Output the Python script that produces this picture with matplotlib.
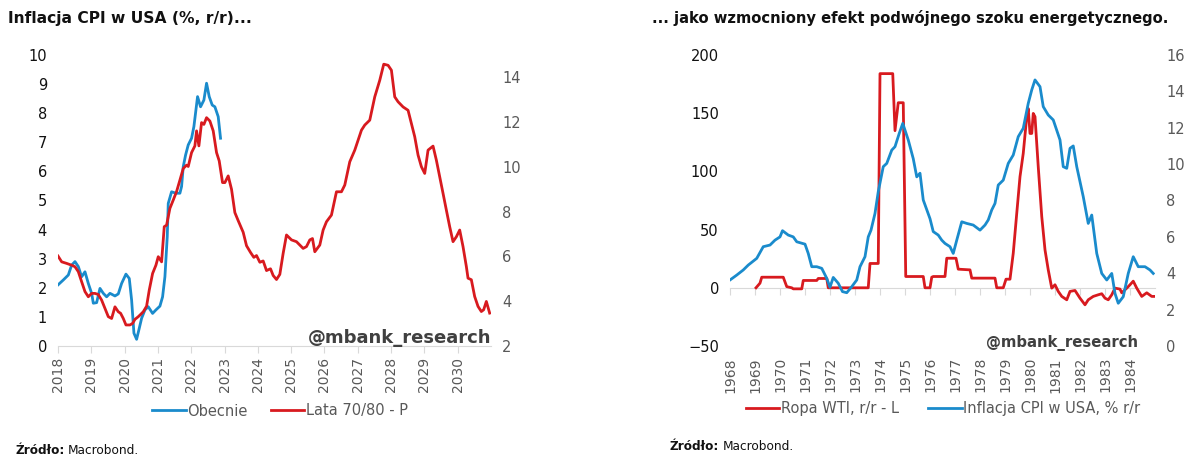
import matplotlib.pyplot as plt

# --- left panel: current CPI vs 1970s/80s CPI (shifted) ---
now_x = [2018.00, 2018.16, 2018.31, 2018.41, 2018.51, 2018.61, 2018.71, 2018.81, 2018.91,
         2019.01, 2019.06, 2019.16, 2019.26, 2019.36, 2019.46, 2019.56, 2019.71, 2019.81,
         2019.91, 2020.04, 2020.14, 2020.21, 2020.28, 2020.36, 2020.44, 2020.51, 2020.61,
         2020.71, 2020.84, 2020.94, 2021.06, 2021.14, 2021.21, 2021.28, 2021.31, 2021.41,
         2021.54, 2021.66, 2021.71, 2021.76, 2021.83, 2021.91, 2022.01, 2022.08, 2022.19,
         2022.28, 2022.38, 2022.46, 2022.54, 2022.63, 2022.71, 2022.81, 2022.88]
now_y = [2.10, 2.27, 2.44, 2.78, 2.90, 2.73, 2.38, 2.55, 2.15,
         1.81, 1.47, 1.49, 1.98, 1.81, 1.69, 1.81, 1.72, 1.79,
         2.15, 2.47, 2.32, 1.58, 0.44, 0.23, 0.61, 0.95, 1.24,
         1.35, 1.12, 1.24, 1.37, 1.69, 2.38, 3.76, 4.90, 5.30,
         5.25, 5.25, 5.48, 6.16, 6.56, 6.91, 7.14, 7.54, 8.57,
         8.22, 8.45, 9.03, 8.57, 8.28, 8.22, 7.88, 7.14]

old_x = [2018.00, 2018.11, 2018.26, 2018.41, 2018.51, 2018.61, 2018.71, 2018.81, 2018.91,
         2019.01, 2019.11, 2019.21, 2019.31, 2019.41, 2019.51, 2019.61, 2019.71, 2019.81,
         2019.88, 2019.96, 2020.04, 2020.16, 2020.24, 2020.31, 2020.41, 2020.48, 2020.56,
         2020.66, 2020.74, 2020.84, 2020.94, 2021.01, 2021.11, 2021.19, 2021.26, 2021.36,
         2021.46, 2021.56, 2021.66, 2021.76, 2021.86, 2021.91, 2022.01, 2022.11, 2022.16,
         2022.23, 2022.31, 2022.38, 2022.46, 2022.56, 2022.66, 2022.76, 2022.84, 2022.94,
         2023.01, 2023.11, 2023.21, 2023.31, 2023.41, 2023.56, 2023.66, 2023.78, 2023.88,
         2023.96, 2024.06, 2024.16, 2024.26, 2024.38, 2024.46, 2024.56, 2024.66, 2024.76,
         2024.86, 2025.01, 2025.16, 2025.26, 2025.36, 2025.46, 2025.56, 2025.64, 2025.71,
         2025.86, 2025.96, 2026.06, 2026.21, 2026.36, 2026.51, 2026.61, 2026.76, 2026.91,
         2027.11, 2027.21, 2027.36, 2027.51, 2027.66, 2027.78, 2027.91, 2028.01, 2028.11,
         2028.21, 2028.36, 2028.51, 2028.61, 2028.71, 2028.81, 2028.91, 2029.01, 2029.11,
         2029.26, 2029.36, 2029.46, 2029.56, 2029.66, 2029.76, 2029.86, 2029.96, 2030.06,
         2030.16, 2030.26, 2030.31, 2030.41, 2030.51, 2030.61, 2030.71, 2030.78, 2030.86,
         2030.96]
old_y = [6.02, 5.76, 5.69, 5.61, 5.54, 5.32, 4.87, 4.43, 4.20,
         4.35, 4.35, 4.30, 4.05, 3.68, 3.31, 3.23, 3.75, 3.53,
         3.46, 3.23, 2.94, 2.94, 3.01, 3.19, 3.31, 3.41, 3.53,
         3.78, 4.50, 5.24, 5.61, 5.99, 5.76, 7.33, 7.40, 8.15,
         8.52, 8.90, 9.41, 9.93, 10.08, 10.02, 10.64, 10.94, 11.61,
         10.94, 11.98, 11.90, 12.20, 12.05, 11.61, 10.64, 10.27, 9.30,
         9.30, 9.60, 9.00, 7.96, 7.60, 7.08, 6.48, 6.18, 5.96,
         6.04, 5.74, 5.80, 5.37, 5.45, 5.15, 4.97, 5.20, 6.14,
         6.96, 6.74, 6.66, 6.51, 6.36, 6.44, 6.74, 6.80, 6.21,
         6.51, 7.18, 7.55, 7.85, 8.89, 8.89, 9.19, 10.23, 10.75,
         11.64, 11.87, 12.09, 13.13, 13.87, 14.59, 14.54, 14.32, 13.13,
         12.91, 12.68, 12.53, 11.94, 11.35, 10.53, 10.01, 9.71, 10.75,
         10.93, 10.30, 9.56, 8.82, 8.07, 7.33, 6.66, 6.88, 7.18,
         6.44, 5.55, 5.03, 4.96, 4.21, 3.77, 3.54, 3.62, 3.99,
         3.47]

left_years = list(range(2018, 2031))

# --- right panel: WTI oil y/y vs US CPI 1968-1984 ---
wti_x = [1969.04, 1969.20, 1969.27, 1970.13, 1970.27, 1970.47, 1970.53, 1970.87, 1970.93,
         1971.47, 1971.53, 1971.87, 1971.93, 1973.53, 1973.60, 1973.93, 1974.00, 1974.51,
         1974.60, 1974.73, 1974.93, 1975.03, 1975.73, 1975.80, 1976.00, 1976.07, 1976.13,
         1976.60, 1976.67, 1977.04, 1977.13, 1977.60, 1977.67, 1978.60, 1978.67, 1978.93,
         1979.04, 1979.20, 1979.33, 1979.47, 1979.60, 1979.73, 1979.87, 1979.93, 1980.00,
         1980.07, 1980.13, 1980.20, 1980.33, 1980.47, 1980.60, 1980.73, 1980.87, 1981.00,
         1981.13, 1981.27, 1981.47, 1981.60, 1981.80, 1982.00, 1982.20, 1982.33, 1982.53,
         1982.73, 1982.87, 1983.00, 1983.13, 1983.27, 1983.40, 1983.60, 1983.67, 1983.87,
         1984.00, 1984.13, 1984.27, 1984.47, 1984.67, 1984.87, 1984.96]
wti_y = [0, 4, 9.1, 9.1, 1, 0, -0.9, -0.9, 6.3,
         6.3, 8.0, 8.0, 0, 0, 20.9, 20.9, 184, 184,
         135, 159, 159, 9.7, 9.7, 0, 0, 9.1, 9.7,
         9.7, 25.4, 25.4, 16.0, 15.4, 8.3, 8.3, 0, 0,
         7.4, 7.4, 29.7, 64, 95.5, 115.5, 147, 154, 132.6,
         132.6, 149.8, 147, 104, 61.2, 32.6, 15.4, -0.3, 2.6,
         -3.1, -7.4, -10.3, -3.1, -2.3, -8.9, -14.6, -10.3, -7.4,
         -6.0, -5.1, -8.9, -10.3, -6.0, -0.3, -1.1, -4.3, -0.3,
         2.6, 5.7, -0.3, -7.4, -4.3, -7.4, -7.4]

cpi_x = [1968.00, 1968.27, 1968.53, 1968.73, 1969.07, 1969.33, 1969.60, 1969.80, 1970.00,
         1970.10, 1970.33, 1970.53, 1970.67, 1971.00, 1971.13, 1971.27, 1971.47, 1971.67,
         1971.87, 1972.00, 1972.13, 1972.33, 1972.50, 1972.67, 1972.87, 1973.07, 1973.20,
         1973.40, 1973.53, 1973.64, 1973.80, 1973.93, 1974.13, 1974.27, 1974.47, 1974.60,
         1974.77, 1974.91, 1975.13, 1975.33, 1975.47, 1975.60, 1975.73, 1976.00, 1976.13,
         1976.33, 1976.47, 1976.60, 1976.80, 1976.93, 1977.07, 1977.27, 1977.47, 1977.73,
         1978.00, 1978.20, 1978.33, 1978.47, 1978.60, 1978.73, 1978.93, 1979.13, 1979.33,
         1979.53, 1979.73, 1979.93, 1980.07, 1980.20, 1980.40, 1980.53, 1980.73, 1980.93,
         1981.20, 1981.33, 1981.47, 1981.60, 1981.73, 1981.87, 1982.13, 1982.33, 1982.47,
         1982.67, 1982.87, 1983.07, 1983.27, 1983.40, 1983.53, 1983.73, 1983.93, 1984.13,
         1984.33, 1984.60, 1984.80, 1984.93]
cpi_y = [3.63, 3.90, 4.18, 4.45, 4.82, 5.46, 5.55, 5.82, 6.00,
         6.34, 6.10, 6.00, 5.73, 5.60, 5.09, 4.36, 4.36, 4.27,
         3.72, 3.23, 3.77, 3.45, 2.99, 2.93, 3.26, 3.63, 4.36,
         4.91, 6.00, 6.37, 7.29, 8.48, 9.86, 10.04, 10.77, 10.96,
         11.69, 12.24, 11.33, 10.30, 9.30, 9.50, 8.03, 7.00, 6.29,
         6.10, 5.82, 5.64, 5.46, 5.09, 5.82, 6.83, 6.74, 6.65,
         6.37, 6.65, 6.93, 7.48, 7.84, 8.85, 9.12, 10.04, 10.50,
         11.51, 11.97, 13.34, 14.08, 14.63, 14.26, 13.16, 12.70, 12.43,
         11.33, 9.86, 9.77, 10.87, 11.00, 9.86, 8.21, 6.74, 7.20,
         5.09, 3.99, 3.63, 3.99, 2.89, 2.35, 2.71, 3.99, 4.91,
         4.36, 4.36, 4.18, 3.99]

right_years = list(range(1968, 1985))

blue = "#1a8bcc"
red = "#d81a1f"
grey_txt = "#595959"
axis_grey = "#d9d9d9"

fig = plt.figure(figsize=(12, 4.63), dpi=100)
H = 463.0
W = 1200.0


def style(ax, twin):
    for s in ax.spines.values():
        s.set_visible(False)
    for s in twin.spines.values():
        s.set_visible(False)
    ax.tick_params(axis="y", length=0, labelsize=10.5, colors="#111111", pad=8)
    twin.tick_params(axis="y", length=0, labelsize=10.5, colors=grey_txt, pad=8)


# left chart
ax1 = fig.add_axes([58 / W, 117 / H, 433 / W, 291 / H])
ax1r = ax1.twinx()
ax1.plot(now_x, now_y, color=blue, lw=2.0, label="Obecnie")
ax1r.plot(old_x, old_y, color=red, lw=2.0, label="Lata 70/80 - P")
ax1.set_xlim(2018, 2031)
ax1.set_ylim(0, 10)
ax1r.set_ylim(2, 15)
ax1.set_yticks(range(0, 11))
ax1r.set_yticks(range(2, 15, 2))
style(ax1, ax1r)
ax1.spines["bottom"].set_visible(True)
ax1.spines["bottom"].set_color(axis_grey)
ax1.set_xticks(left_years)
ax1.set_xticklabels([str(y) for y in left_years], rotation=90)
ax1.tick_params(axis="x", length=5, color=axis_grey, labelsize=10, labelcolor=grey_txt, pad=3)

# right chart
ax2 = fig.add_axes([730 / W, 117 / H, 425 / W, 291 / H])
ax2r = ax2.twinx()
ax2.plot(wti_x, wti_y, color=red, lw=2.0, label="Ropa WTI, r/r - L")
ax2r.plot(cpi_x, cpi_y, color=blue, lw=2.0, label="Inflacja CPI w USA, % r/r")
ax2.set_xlim(1968, 1985)
ax2.set_ylim(-50, 200)
ax2r.set_ylim(0, 16)
ax2.set_yticks(range(-50, 201, 50))
ax2r.set_yticks(range(0, 17, 2))
style(ax2, ax2r)
ax2.set_xticks(right_years)
ax2.set_xticklabels([str(y) for y in right_years], rotation=90)
ax2.tick_params(axis="x", length=0, labelsize=10, labelcolor=grey_txt, pad=8)
zero_axis = ax2.secondary_xaxis(50 / 250)
zero_axis.set_xticks(right_years)
zero_axis.tick_params(axis="x", length=5, color=axis_grey, labelbottom=False)
for s in zero_axis.spines.values():
    s.set_color(axis_grey)

# legends
h1 = ax1.get_lines() + ax1r.get_lines()
fig.legend(h1, [l.get_label() for l in h1], loc="center", bbox_to_anchor=(280 / W, 1 - 411 / H),
           ncol=2, frameon=False, fontsize=10.5, labelcolor=grey_txt, handlelength=2.3,
           handletextpad=0.1, columnspacing=1.6)
h2 = ax2.get_lines() + ax2r.get_lines()
fig.legend(h2, [l.get_label() for l in h2], loc="center", bbox_to_anchor=(943 / W, 1 - 409 / H),
           ncol=2, frameon=False, fontsize=10.5, labelcolor=grey_txt, handlelength=2.3,
           handletextpad=0.1, columnspacing=2.0)

# titles and notes
fig.text(8 / W, 1 - 18 / H, "Inflacja CPI w USA (%, r/r)...", fontsize=11.2, fontweight="bold",
         ha="left", va="center", color="#111111")
fig.text(1168 / W, 1 - 18 / H, "... jako wzmocniony efekt podwójnego szoku energetycznego.",
         fontsize=10.6, fontweight="bold", ha="right", va="center", color="#111111")
fig.text(491 / W, 1 - 338 / H, "@mbank_research", fontsize=13, fontweight="bold",
         ha="right", va="center", color="#404040")
fig.text(1138 / W, 1 - 343 / H, "@mbank_research", fontsize=10.7, fontweight="bold",
         ha="right", va="center", color="#404040")

renderer = fig.canvas.get_renderer()
for x0, y0 in [(15, 450), (670, 447)]:
    t = fig.text(x0 / W, 1 - y0 / H, "Źródło:", fontsize=8.7, fontweight="bold",
                 ha="left", va="center", color="#111111")
    w = t.get_window_extent(renderer).width
    fig.text((x0 + w + 3) / W, 1 - y0 / H, "Macrobond.", fontsize=8.7,
             ha="left", va="center", color="#111111")

fig.savefig("out.png", dpi=100)
